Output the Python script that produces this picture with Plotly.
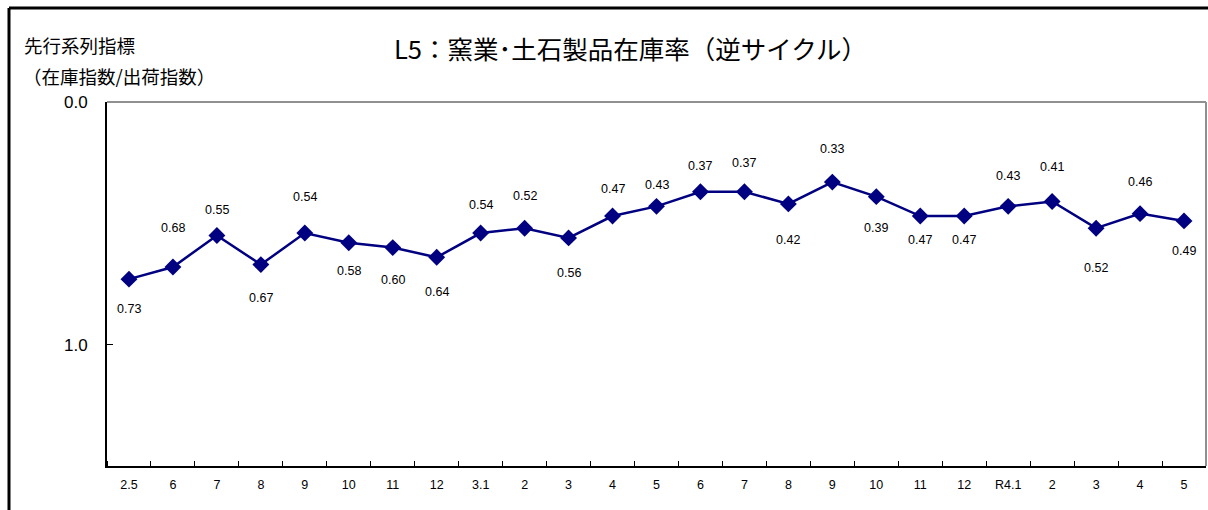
import plotly.graph_objects as go

categories = ["2.5", "6", "7", "8", "9", "10", "11", "12", "3.1", "2", "3", "4", "5",
              "6", "7", "8", "9", "10", "11", "12", "R4.1", "2", "3", "4", "5"]
values = [0.73, 0.68, 0.55, 0.67, 0.54, 0.58, 0.60, 0.64, 0.54, 0.52, 0.56, 0.47, 0.43,
          0.37, 0.37, 0.42, 0.33, 0.39, 0.47, 0.47, 0.43, 0.41, 0.52, 0.46, 0.49]
y_ticks = [0.0, 1.0]
y_tick_labels = ["0.0", "1.0"]

# label vertical offsets in pixels (negative = above the point)
label_dy = [30, -39, -25, 33, -36, 28, 32, 35, -28, -32, 35, -27, -21,
            -26, -29, 36, -33, 31, 24, 24, -30, -34, 40, -32, 30]

NUM_FONT = "Liberation Sans, Arial, sans-serif"
JP_FONT = "Noto Sans CJK JP, sans-serif"

positions = list(range(len(categories)))

fig = go.Figure()
fig.add_trace(go.Scatter(
    x=positions, y=values, mode="lines+markers",
    line=dict(color="#000080", width=2.5),
    marker=dict(symbol="diamond", size=13, color="#000080"),
    hoverinfo="skip", showlegend=False,
))

for p, v, dy in zip(positions, values, label_dy):
    fig.add_annotation(x=p, y=v, text=f"{v:.2f}", showarrow=False, yshift=-dy,
                       font=dict(family=NUM_FONT, size=12.5, color="black"))

fig.update_xaxes(
    range=[-0.5, len(categories) - 0.5],
    tickvals=positions, ticktext=categories, ticks="",
    minor=dict(tick0=-0.5, dtick=1, ticks="inside", ticklen=5, tickcolor="black",
               showgrid=False),
    showline=True, linecolor="black", linewidth=2,
    tickfont=dict(family=NUM_FONT, size=12.5, color="black"),
    ticklabelstandoff=6, showgrid=False, zeroline=False,
)
fig.update_yaxes(
    range=[1.5, 0.0], tickvals=y_ticks, ticktext=y_tick_labels,
    showline=True, linecolor="black", linewidth=2,
    ticks="inside", ticklen=6, tickcolor="black",
    tickfont=dict(family=NUM_FONT, size=17, color="black"),
    ticklabelstandoff=14, showgrid=False, zeroline=False,
)

# plot area top/right light border
fig.add_shape(type="line", xref="paper", yref="paper", x0=0, x1=1, y0=1, y1=1,
              line=dict(color="#909090", width=2))
fig.add_shape(type="line", xref="paper", yref="paper", x0=1, x1=1, y0=0, y1=1,
              line=dict(color="#909090", width=2))

W, H = 1208, 510
L, R, T, B = 107, 2, 102, 44
pw, ph = W - L - R, H - T - B


def px(xr):
    return (xr - L) / pw


def py(yr):
    return 1 + (T - yr) / ph


# outer frame (left and top edges)
fig.add_shape(type="line", xref="paper", yref="paper", x0=px(9), x1=1.05, y0=py(8), y1=py(8),
              line=dict(color="black", width=3))
fig.add_shape(type="line", xref="paper", yref="paper", x0=px(9), x1=px(9), y0=py(8), y1=-0.2,
              line=dict(color="black", width=3))

fig.add_annotation(xref="paper", yref="paper", x=px(630), y=py(47),
                   xanchor="center", yanchor="middle",
                   text="L5：窯業･土石製品在庫率（逆サイクル）", showarrow=False,
                   font=dict(family=JP_FONT, size=25.5, color="black"))
fig.add_annotation(xref="paper", yref="paper", x=px(22), y=py(45),
                   xanchor="left", yanchor="middle", text="先行系列指標", showarrow=False,
                   font=dict(family=JP_FONT, size=18.5, color="black"))
fig.add_annotation(xref="paper", yref="paper", x=px(21), y=py(76),
                   xanchor="left", yanchor="middle", text="（在庫指数/出荷指数）", showarrow=False,
                   font=dict(family=JP_FONT, size=18.5, color="black"))

fig.update_layout(
    width=W, height=H, margin=dict(l=L, r=R, t=T, b=B),
    paper_bgcolor="white", plot_bgcolor="white",
)
fig.write_html(
    "out.html",
    config={"displayModeBar": False},
    post_script="document.body.style.margin='0';document.body.style.overflow='hidden';",
)
